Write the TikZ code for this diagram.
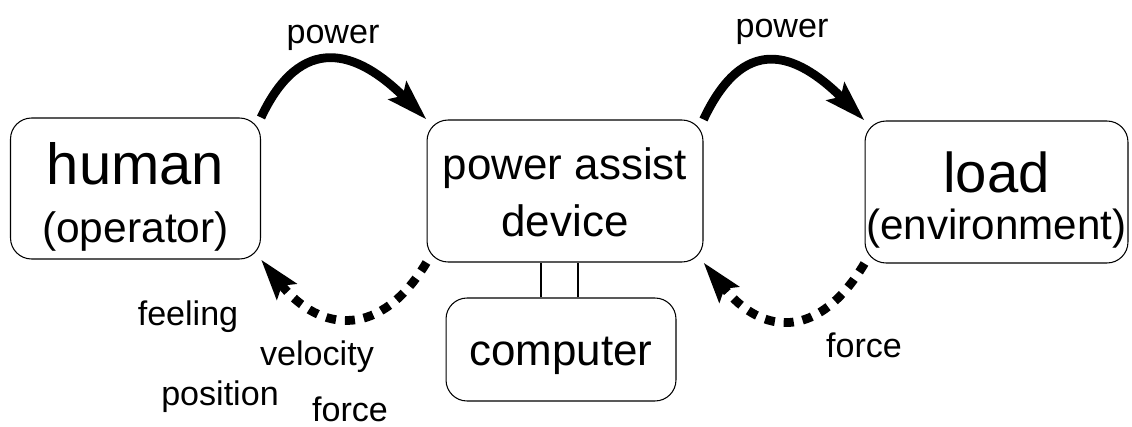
\documentclass[tikz,border=0pt]{standalone}
\usepackage{fontspec}
\setmainfont{Liberation Sans}
\usetikzlibrary{arrows.meta, calc}

\begin{document}
\begin{tikzpicture}[x=0.02cm, y=0.02cm,
box/.style={draw=black, line width=0.6pt, rounded corners=0.42cm, inner sep=0pt, align=center},
flow/.style={line width=5pt, -{Stealth[length=23pt, width=14pt, inset=4pt]}},
fback/.style={flow, dash pattern=on 5.7pt off 5.1pt},
lbl/.style={anchor=base, inner sep=0pt, font=\fontsize{19.4}{20}\selectfont}]
\useasboundingbox (0,0) rectangle (1132,-426);
\node[box, minimum width=5cm, minimum height=2.82cm, font=\fontsize{24.2}{33}\selectfont] (human) at (135.5,-188.5) {\rule{0pt}{34pt}{\fontsize{33}{33}\selectfont human}\\(operator)};
\node[box, minimum width=5.52cm, minimum height=2.84cm, font=\fontsize{25}{32.4}\selectfont] (device) at (565,-191) {\rule{0pt}{19.5pt}power assist\\device};
\node[box, minimum width=5.26cm, minimum height=2.84cm, font=\fontsize{24}{26.7}\selectfont] (load) at (996.5,-192) {\rule{0pt}{32pt}{\fontsize{32}{32}\selectfont load}\\(environment)};
\node[box, minimum width=4.6cm, minimum height=2.06cm, font=\fontsize{25}{30}\selectfont] (computer) at (561,-349.5) {\rule{0pt}{23pt}computer};
\path ([xshift=-0.4cm]computer.north) coordinate (linkA) ([xshift=0.34cm]computer.north) coordinate (linkB);
\draw[line width=0.6pt] (linkA) -- (linkA |- device.south);
\draw[line width=0.6pt] (linkB) -- (linkB |- device.south);
\draw[flow] (human.north east) .. controls +(40,85) and +(-70,70) .. (device.north west);
\draw[flow] (device.north east) .. controls +(40,85) and +(-70,70) .. (load.north west);
\draw[fback] (device.south west) .. controls +(-45,-75) and +(60,-75) .. (human.south east);
\draw[fback] (load.south west) .. controls +(-45,-75) and +(60,-75) .. (device.south east);
\node[lbl] (powerA) at (333,-43) {power};
\node[lbl] (powerB) at (782,-37) {power};
\node[lbl] (feeling) at (188,-325) {feeling};
\node[lbl] (velocity) at (317,-365) {velocity};
\node[lbl] (position) at (220,-405) {position};
\node[lbl] (forceA) at (350,-421) {force};
\node[lbl] (forceB) at (864,-357) {force};
\end{tikzpicture}
\end{document}
